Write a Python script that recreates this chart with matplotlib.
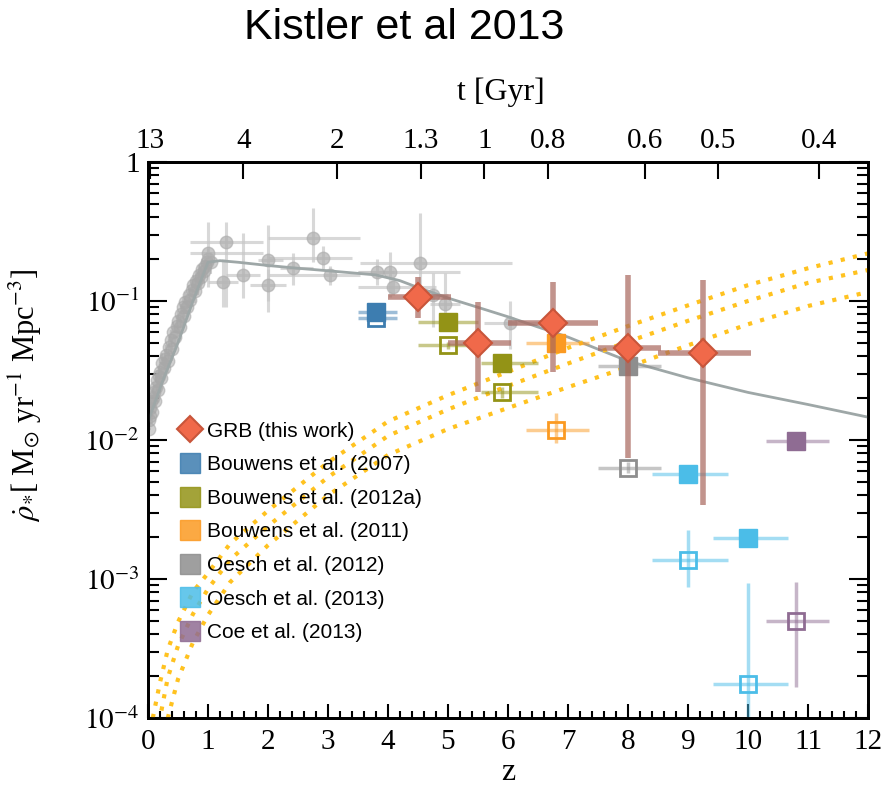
import matplotlib
matplotlib.use("Agg")
import matplotlib.pyplot as plt
import numpy as np
from matplotlib.lines import Line2D
from matplotlib.ticker import FixedLocator, MultipleLocator, NullFormatter

plt.rcParams['font.family'] = ['Liberation Serif', 'DejaVu Serif']
plt.rcParams['mathtext.fontset'] = 'stix'

# ---- data ----
# GRB (this work)
grb_z = [4.5, 5.5, 6.75, 8.0, 9.25]
grb_rho = [0.107, 0.050, 0.070, 0.046, 0.042]
grb_zlo = [4.0, 5.0, 6.0, 7.5, 8.5]
grb_zhi = [5.05, 6.05, 7.5, 8.55, 10.05]
grb_rlo = [0.0755, 0.022, 0.031, 0.0074, 0.0034]
grb_rhi = [0.149, 0.098, 0.137, 0.154, 0.142]

# literature points: z, z range, filled rho, open rho and its range
b07_z, b07_zlo, b07_zhi = [3.8], [3.5], [4.15]
b07_fill, b07_open = [0.084], [0.076]
b07_olo, b07_ohi = [0.072], [0.080]

b12_z, b12_zlo, b12_zhi = [5.0, 5.9], [4.5, 5.55], [5.5, 6.5]
b12_fill, b12_open = [0.071, 0.036], [0.048, 0.022]
b12_olo, b12_ohi = [0.045, 0.020], [0.051, 0.024]

b11_z, b11_zlo, b11_zhi = [6.8], [6.3], [7.35]
b11_fill, b11_open = [0.050], [0.0118]
b11_olo, b11_ohi = [0.0095], [0.0156]

o12_z, o12_zlo, o12_zhi = [8.0], [7.5], [8.55]
o12_fill, o12_open = [0.034], [0.0063]
o12_olo, o12_ohi = [0.0058], [0.0069]

o13_z, o13_zlo, o13_zhi = [9.0, 10.0], [8.4, 9.42], [9.67, 10.67]
o13_fill, o13_open = [0.0057, 0.00197], [0.00137, 0.000176]
o13_olo, o13_ohi = [0.00088, 0.00005], [0.00225, 0.00093]

coe_z, coe_zlo, coe_zhi = [10.8], [10.3], [11.35]
coe_fill, coe_open = [0.0098], [0.0005]
coe_olo, coe_ohi = [0.000166], [0.00095]

# grey compilation, low-z dense part
lowz_z = [0.01, 0.02, 0.03, 0.04, 0.05, 0.06, 0.08, 0.1, 0.12, 0.14, 0.15, 0.17,
          0.18, 0.2, 0.22, 0.24, 0.26, 0.28, 0.3, 0.33, 0.35, 0.38, 0.4, 0.42,
          0.45, 0.48, 0.5, 0.53, 0.55, 0.58, 0.6, 0.62, 0.65, 0.68, 0.7, 0.73,
          0.75, 0.78, 0.8, 0.83, 0.85, 0.88, 0.9, 0.93, 0.95, 0.98, 1.0, 1.05]
lowz_rho = [0.012, 0.014, 0.017, 0.015, 0.019, 0.016, 0.02, 0.022, 0.019, 0.024,
            0.027, 0.023, 0.029, 0.031, 0.028, 0.036, 0.033, 0.038, 0.041, 0.037,
            0.047, 0.052, 0.045, 0.06, 0.055, 0.066, 0.072, 0.065, 0.08, 0.09,
            0.078, 0.098, 0.09, 0.11, 0.102, 0.12, 0.13, 0.118, 0.14, 0.135,
            0.155, 0.15, 0.17, 0.165, 0.18, 0.19, 0.2, 0.19]

# grey compilation, z > 1 points with error bars
grey_z = [1.0, 1.3, 1.25, 1.58, 2.0, 2.0, 2.42, 2.75, 2.92, 3.03, 3.82, 4.03,
          4.08, 4.53, 4.75, 4.95, 6.03]
grey_rho = [0.22, 0.266, 0.137, 0.154, 0.197, 0.13, 0.173, 0.284, 0.204, 0.154,
            0.162, 0.162, 0.126, 0.188, 0.11, 0.095, 0.07]
grey_zlo = [0.7, 0.7, 1.0, 1.3, 1.83, 1.7, 2.2, 2.0, 2.0, 2.0, 3.5, 3.5, 3.5,
            3.53, 4.5, 4.7, 5.6]
grey_zhi = [1.92, 1.92, 1.5, 1.87, 2.25, 2.3, 2.75, 3.53, 3.4, 3.53, 4.1, 5.2,
            4.8, 6.07, 5.0, 5.2, 6.5]
grey_rlo = [0.126, 0.09, 0.09, 0.105, 0.083, 0.1, 0.13, 0.19, 0.17, 0.13, 0.13,
            0.107, 0.11, 0.12, 0.065, 0.065, 0.045]
grey_rhi = [0.37, 0.37, 0.2, 0.31, 0.35, 0.17, 0.22, 0.47, 0.25, 0.18, 0.2,
            0.225, 0.145, 0.43, 0.16, 0.16, 0.1]

# grey fit line
fit_z = [0.0, 0.25, 0.5, 0.75, 1.0, 1.2, 1.5, 2.0, 2.5, 3.0, 3.5, 3.8, 4.2, 4.5,
         5.0, 5.5, 6.0, 6.5, 7.0, 7.5, 8.0, 9.0, 10.0, 11.0, 12.0]
fit_rho = [0.0135, 0.027, 0.05, 0.1, 0.19, 0.195, 0.19, 0.18, 0.172, 0.165,
           0.158, 0.154, 0.14, 0.125, 0.105, 0.09, 0.077, 0.065, 0.055, 0.045,
           0.037, 0.028, 0.022, 0.018, 0.0146]

# yellow dotted curves
dot_z = [0.08, 0.2, 0.33, 0.5, 0.75, 1.0, 1.37, 2.0, 3.0, 4.0, 5.0, 6.0, 7.0,
         8.0, 9.0, 10.0, 11.0, 12.0]
dot_top = [1.0e-4, 1.8e-4, 3.1e-4, 4.9e-4, 8.1e-4, 1.1e-3, 1.8e-3, 3.1e-3,
           6.9e-3, 1.36e-2, 2.1e-2, 3.1e-2, 4.6e-2, 6.6e-2, 9.3e-2, 1.3e-1,
           1.72e-1, 2.2e-1]
dot_mid = [0.5e-4, 1.0e-4, 1.95e-4, 3.3e-4, 5.6e-4, 8.5e-4, 1.38e-3, 2.4e-3,
           5.4e-3, 1.07e-2, 1.66e-2, 2.45e-2, 3.55e-2, 5.1e-2, 7.2e-2, 1.0e-1,
           1.35e-1, 1.67e-1]
dot_bot = [0.25e-4, 0.55e-4, 1.0e-4, 1.9e-4, 3.5e-4, 5.5e-4, 9.5e-4, 1.75e-3,
           4.0e-3, 7.8e-3, 1.2e-2, 1.7e-2, 2.4e-2, 3.35e-2, 4.8e-2, 6.8e-2,
           9.2e-2, 1.16e-1]

# top axis: cosmic time labels
t_vals = [13, 4, 2, 1.3, 1, 0.8, 0.6, 0.5, 0.4]
t_labels = ['13', '4', '2', '1.3', '1', '0.8', '0.6', '0.5', '0.4']


def z_of_t(t, h0=70.0, om=0.3):
    ol = 1.0 - om
    hubble_time = 977.8 / h0  # Gyr
    arg = 1.5 * np.sqrt(ol) * np.asarray(t) / hubble_time
    return (np.sqrt(ol / om) / np.sinh(arg)) ** (2.0 / 3.0) - 1.0


def errs(val, lo, hi):
    val, lo, hi = np.asarray(val), np.asarray(lo), np.asarray(hi)
    return np.vstack([val - lo, hi - val])


fig = plt.figure(figsize=(8.92, 7.91), dpi=100)
ax = fig.add_axes([0.1659, 0.0923, 0.8072, 0.7029])

# grey compilation
lowz_rho_arr = np.asarray(lowz_rho)
ax.errorbar(lowz_z, lowz_rho, yerr=0.18 * lowz_rho_arr, xerr=0.04, fmt='o', ms=9,
            color='#a8a8a8', mec='#a8a8a8', ecolor='#b8b8b8', elinewidth=1.5,
            alpha=0.55, zorder=2)
ax.errorbar(grey_z, grey_rho, xerr=errs(grey_z, grey_zlo, grey_zhi),
            yerr=errs(grey_rho, grey_rlo, grey_rhi), fmt='o', ms=9,
            color='#b0b0b0', mec='#b0b0b0', ecolor='#c8c8c8', elinewidth=2.2,
            alpha=0.7, zorder=2)
ax.plot(fit_z, fit_rho, color='#9ea7a7', lw=2.0, zorder=3)

# yellow dotted curves
for d in (dot_top, dot_mid, dot_bot):
    ax.plot(dot_z, d, color='#ffc21f', lw=3, ls=(0, (1, 2)), zorder=3)

series = [
    ('Bouwens et al. (2007)', '#3d7db0', b07_z, b07_zlo, b07_zhi, b07_fill, b07_open, b07_olo, b07_ohi),
    ('Bouwens et al. (2012a)', '#939316', b12_z, b12_zlo, b12_zhi, b12_fill, b12_open, b12_olo, b12_ohi),
    ('Bouwens et al. (2011)', '#fb9a22', b11_z, b11_zlo, b11_zhi, b11_fill, b11_open, b11_olo, b11_ohi),
    ('Oesch et al. (2012)', '#8e8e8e', o12_z, o12_zlo, o12_zhi, o12_fill, o12_open, o12_olo, o12_ohi),
    ('Oesch et al. (2013)', '#4bbde8', o13_z, o13_zlo, o13_zhi, o13_fill, o13_open, o13_olo, o13_ohi),
    ('Coe et al. (2013)', '#8f6c93', coe_z, coe_zlo, coe_zhi, coe_fill, coe_open, coe_olo, coe_ohi),
]

handles = [Line2D([], [], marker='D', ls='none', ms=13, mfc='#f0694a',
                  mec='#c8553a', mew=1.5, label='GRB (this work)')]
for label, col, z, zlo, zhi, fill, opn, olo, ohi in series:
    xe = errs(z, zlo, zhi)
    ax.errorbar(z, fill, xerr=xe, fmt='none', ecolor=col, elinewidth=2.5,
                alpha=0.5, zorder=4)
    ax.plot(z, fill, 's', ms=13, color=col, mec=col, zorder=5)
    ax.errorbar(z, opn, xerr=xe, yerr=errs(opn, olo, ohi), fmt='none',
                ecolor=col, elinewidth=2.5, alpha=0.5, zorder=4)
    ax.plot(z, opn, 's', ms=12, mfc='none', mec=col, mew=2, zorder=5)
    handles.append(Line2D([], [], marker='s', ls='none', ms=14, color=col,
                          alpha=0.85, label=label))

# GRB points on top
ax.errorbar(grb_z, grb_rho, xerr=errs(grb_z, grb_zlo, grb_zhi),
            yerr=errs(grb_rho, grb_rlo, grb_rhi), fmt='none',
            ecolor='#a8675d', elinewidth=4, alpha=0.7, zorder=6)
ax.plot(grb_z, grb_rho, 'D', ms=14, mfc='#f0694a', mec='#c8553a', mew=1.5, zorder=7)

ax.set_xlim(0, 12)
ax.set_ylim(1e-4, 1)
ax.set_yscale('log')

ax.xaxis.set_major_locator(MultipleLocator(1))
ax.xaxis.set_minor_locator(MultipleLocator(0.2))
ax.set_yticks([1e-4, 1e-3, 1e-2, 1e-1, 1])
ax.set_yticklabels([r'$10^{-4}$', r'$10^{-3}$', r'$10^{-2}$', r'$10^{-1}$', '1'])
ax.yaxis.set_minor_formatter(NullFormatter())
ax.tick_params(axis='both', which='both', direction='in', top=False, right=True, width=1.5)
ax.tick_params(axis='x', which='major', length=10, labelsize=21, pad=8)
ax.tick_params(axis='x', which='minor', length=5)
ax.tick_params(axis='y', which='major', length=14, labelsize=21, pad=6)
ax.tick_params(axis='y', which='minor', length=8)
for sp in ax.spines.values():
    sp.set_linewidth(2)

ax.set_xlabel('z', fontsize=23, labelpad=2)
ax.set_ylabel(r'$\dot{\rho}_{*}$[ M$_{\odot}$ yr$^{-1}$ Mpc$^{-3}$]', fontsize=22)
ax.yaxis.set_label_coords(-0.145, 0.58)

ax2 = ax.twiny()
ax2.set_xlim(0, 12)
ax2.xaxis.set_major_locator(FixedLocator(z_of_t(t_vals)))
ax2.set_xticklabels(t_labels)
ax2.tick_params(axis='x', direction='in', length=12, width=1.5, labelsize=21, pad=6)
ax2.xaxis.set_minor_locator(FixedLocator([]))
for sp in ax2.spines.values():
    sp.set_linewidth(2)

fig.text(0.562, 0.884, 't [Gyr]', ha='center', va='center', fontsize=23)
fig.text(0.453, 0.965, 'Kistler et al 2013', ha='center', va='center', fontsize=31,
         family=['Liberation Sans', 'DejaVu Sans'])

ax.legend(handles=handles, loc='upper left', bbox_to_anchor=(0.03, 0.548), frameon=False,
          prop={'family': ['Liberation Sans', 'DejaVu Sans'], 'size': 15},
          labelspacing=0.7, handletextpad=0.2, handlelength=1.2, borderaxespad=0)

fig.savefig('out.png', dpi=100)
